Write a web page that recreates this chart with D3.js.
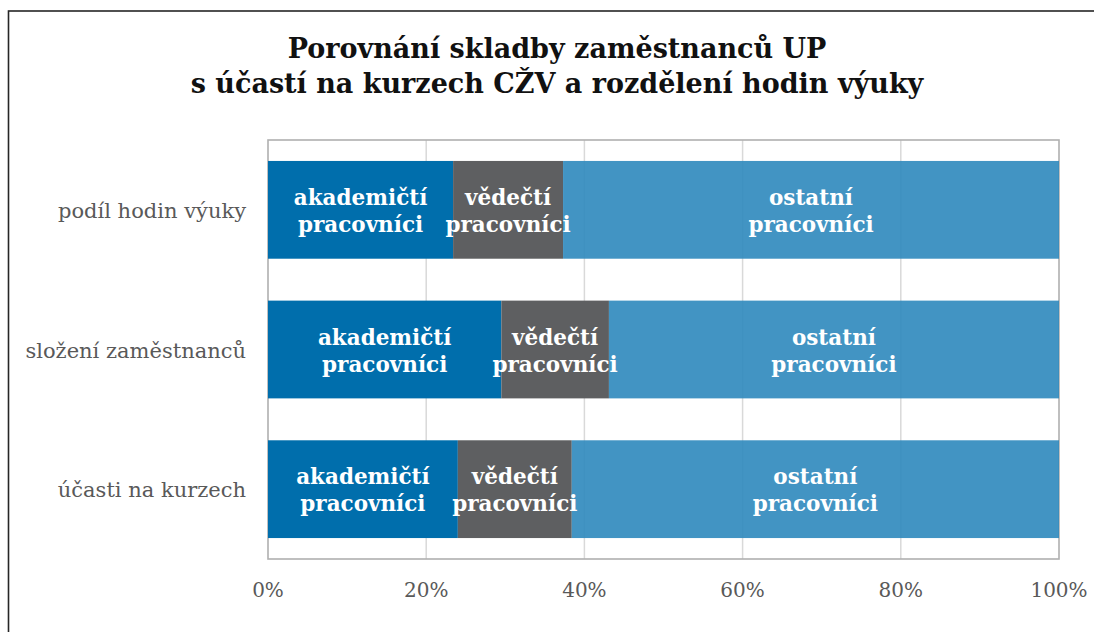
<!DOCTYPE html>
<html>
<head>
<meta charset="utf-8">
<script src="https://cdn.jsdelivr.net/npm/d3@7"></script>
<style>
  html, body { margin: 0; padding: 0; background: #fff; }
  svg { display: block; }
</style>
</head>
<body>
<svg id="chart" width="1094" height="632"></svg>
<script>
const titleLines = ["Porovnání skladby zaměstnanců UP", "s účastí na kurzech CŽV a rozdělení hodin výuky"];
const categories = ["podíl hodin výuky", "složení zaměstnanců", "účasti na kurzech"];
const seriesKeys = ["akademicti", "vedecti", "ostatni"];
const seriesNames = ["akademičtí pracovníci", "vědečtí pracovníci", "ostatní pracovníci"];
const akademicti = [23.4, 29.5, 24.0];
const vedecti = [13.9, 13.6, 14.4];
const ostatni = [62.7, 56.9, 61.6];
const tickValues = [0, 20, 40, 60, 80, 100];
const tickLabels = ["0%", "20%", "40%", "60%", "80%", "100%"];

(function () {
const colors = { akademicti: "#006EAC", vedecti: "#5E5F61", ostatni: "#2E88BD" };
const opac = { akademicti: 1, vedecti: 1, ostatni: 0.9 };

const rows = categories.map((c, i) => ({ cat: c, akademicti: akademicti[i], vedecti: vedecti[i], ostatni: ostatni[i] }));
const stacked = d3.stack().keys(seriesKeys)(rows);

const svg = d3.select("#chart");
const serif = "'DejaVu Serif', Georgia, serif";

// outer frame
svg.append("rect").attr("x", 8.5).attr("y", 11).attr("width", 1200).attr("height", 700)
  .attr("fill", "none").attr("stroke", "#262626").attr("stroke-width", 1.6);

// title
const title = svg.append("text").attr("text-anchor", "middle")
  .attr("font-family", serif).attr("font-weight", "bold").attr("font-size", 27).attr("fill", "#111");
titleLines.forEach((t, i) => title.append("tspan").attr("x", 557).attr("y", 58 + i * 35).text(t));

const pLeft = 268, pRight = 1059, pTop = 140, pBottom = 559;
const x = d3.scaleLinear().domain([0, 100]).range([pLeft, pRight]);
const y = d3.scaleBand().domain(categories).range([pTop, pBottom]).paddingInner(0.3).paddingOuter(0.15);

// gridlines
svg.append("g").selectAll("line").data(tickValues.slice(1, -1)).join("line")
  .attr("x1", d => x(d)).attr("x2", d => x(d)).attr("y1", pTop).attr("y2", pBottom)
  .attr("stroke", "#d9d9d9").attr("stroke-width", 1.5);

// plot box
svg.append("rect").attr("x", pLeft).attr("y", pTop).attr("width", pRight - pLeft).attr("height", pBottom - pTop)
  .attr("fill", "none").attr("stroke", "#b0b0b0").attr("stroke-width", 1.6);

// bars
const g = svg.append("g");
stacked.forEach(layer => {
  const key = layer.key;
  g.append("g").selectAll("rect").data(layer).join("rect")
    .attr("x", d => x(d[0])).attr("width", d => x(d[1]) - x(d[0]))
    .attr("y", d => y(d.data.cat)).attr("height", y.bandwidth())
    .attr("fill", colors[key]).attr("fill-opacity", opac[key]);
});

// bar labels
stacked.forEach((layer, li) => {
  const words = seriesNames[li].split(" ");
  layer.forEach(d => {
    const cx = (x(d[0]) + x(d[1])) / 2;
    const cy = y(d.data.cat) + y.bandwidth() / 2;
    const t = g.append("text").attr("text-anchor", "middle")
      .attr("font-family", serif).attr("font-weight", "bold").attr("font-size", 21.5)
      .attr("fill", "#fff");
    words.forEach((w, wi) => t.append("tspan").attr("x", cx).attr("y", cy - 5 + wi * 27).text(w));
  });
});

// category labels
svg.append("g").selectAll("text").data(categories).join("text")
  .attr("x", 246).attr("y", d => y(d) + y.bandwidth() / 2 + 8)
  .attr("text-anchor", "end").attr("font-family", serif).attr("font-size", 21)
  .attr("fill", "#595959").text(d => d);

// x tick labels
svg.append("g").selectAll("text").data(tickValues).join("text")
  .attr("x", d => x(d)).attr("y", 597)
  .attr("text-anchor", "middle").attr("font-family", serif).attr("font-size", 20)
  .attr("fill", "#595959").text((d, i) => tickLabels[i]);
})();
</script>
</body>
</html>
